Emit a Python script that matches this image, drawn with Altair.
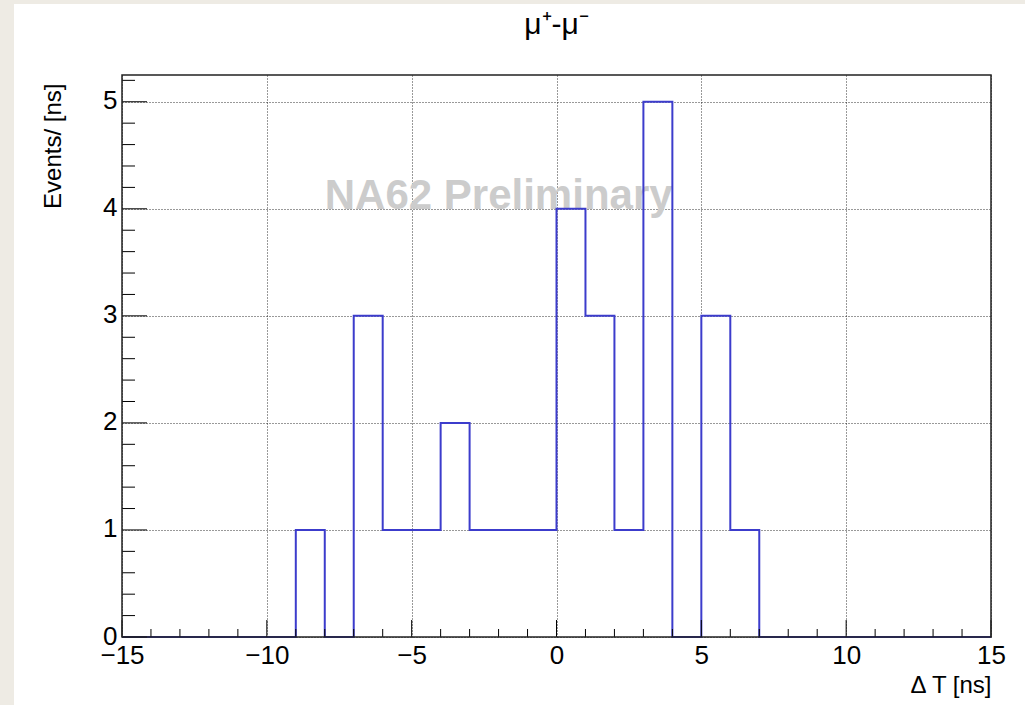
import altair as alt
import pandas as pd

# ---- data ----
bin_edges = list(range(-15, 16))
counts = [0, 0, 0, 0, 0, 0, 1, 0, 3, 1, 1, 2, 1, 1, 1, 4, 3, 1, 5, 0, 3, 1, 0, 0, 0, 0, 0, 0, 0, 0]
x_major = [-15, -10, -5, 0, 5, 10, 15]
x_minor = [v for v in range(-15, 16) if v % 5 != 0]
y_major = [0, 1, 2, 3, 4, 5]
y_minor = [round(0.2 * i, 1) for i in range(0, 27) if i % 5 != 0]
title_text = "μ⁺-μ⁻"
x_title = "Δ T [ns]"
y_title = "Events/ [ns]"
watermark = ["NA62 Preliminary"]
watermark_x = [-8.0]
watermark_y = [4.0]

W, H = 869, 562
FONT = "Liberation Sans"
BLUE = "#3c3ccc"
BEIGE = "#eeebe4"

hist_df = pd.DataFrame({"x": bin_edges, "n": counts + [counts[-1]]})

xs = alt.Scale(domain=[-15, 15], nice=False, zero=False)
ys = alt.Scale(domain=[0, 5.25], nice=False, zero=False)
one = pd.DataFrame({"a": [0]})

left_strip = alt.Chart(one).mark_rect(fill=BEIGE, stroke=None).encode(
    x=alt.value(0 - 122), x2=alt.value(14 - 122),
    y=alt.value(0 - 75), y2=alt.value(705 - 75))
top_strip = alt.Chart(one).mark_rect(fill=BEIGE, stroke=None).encode(
    x=alt.value(0 - 122), x2=alt.value(1025 - 122),
    y=alt.value(0 - 75), y2=alt.value(4 - 75))

xaxis = alt.Axis(values=x_major, format="d", labelPadding=5, labelFlush=False,
                 title=x_title, titleX=W, titleY=55, titleAlign="right",
                 titleBaseline="alphabetic", titleAnchor="end")
yaxis = alt.Axis(values=y_major, format="d", labelPadding=5, labelFlush=False,
                 labelOffset=-1,
                 title=y_title, titleX=-62, titleY=8, titleAngle=270, titleAlign="right",
                 titleBaseline="alphabetic")

grid = alt.Chart(hist_df).mark_line(strokeOpacity=0).encode(
    x=alt.X("x:Q", scale=xs, axis=xaxis),
    y=alt.Y("n:Q", scale=ys, axis=yaxis))

wm = alt.Chart(pd.DataFrame({"t": watermark, "x": watermark_x, "y": watermark_y})).mark_text(
    font=FONT, fontSize=42, fontWeight="bold", color="#cccccc", align="left",
    baseline="alphabetic").encode(
    x=alt.X("x:Q", scale=xs), y=alt.Y("y:Q", scale=ys), text="t:N")

hist = alt.Chart(hist_df).mark_line(interpolate="step-after", color=BLUE, strokeWidth=2).encode(
    x=alt.X("x:Q", scale=xs), y=alt.Y("n:Q", scale=ys))

def xticks(vals, length):
    return alt.Chart(pd.DataFrame({"v": vals})).mark_rule(color="black", strokeWidth=1).encode(
        x=alt.X("v:Q", scale=xs), y=alt.value(H), y2=alt.value(H - length))

def yticks(vals, length):
    return alt.Chart(pd.DataFrame({"v": vals})).mark_rule(color="black", strokeWidth=1).encode(
        y=alt.Y("v:Q", scale=ys), x=alt.value(0), x2=alt.value(length))

frame = alt.Chart(one).mark_rect(filled=False, stroke="#222222", strokeWidth=1.5).encode(
    x=alt.value(0), x2=alt.value(W), y=alt.value(0), y2=alt.value(H))

title = alt.Chart(pd.DataFrame({"t": [title_text]})).mark_text(
    font=FONT, fontSize=30, color="black", align="center", baseline="alphabetic").encode(
    x=alt.value(W / 2), y=alt.value(34 - 75), text="t:N")

chart = alt.layer(
    grid, left_strip, top_strip, wm, hist,
    xticks(x_major, 17), xticks(x_minor, 8),
    yticks(y_major, 25), yticks(y_minor, 13),
    frame, title
).properties(
    width=W, height=H,
    autosize=alt.AutoSizeParams(type="none"),
    padding={"left": 122, "top": 75, "right": 1025 - 122 - W, "bottom": 705 - 75 - H},
).configure(background="white", font=FONT).configure_view(stroke=None, fill=None).configure_axis(
    ticks=False, domain=False, grid=True,
    gridDash=[1, 2], gridColor="#000000", gridOpacity=0.8, gridWidth=1,
    labelFont=FONT, labelFontSize=26, labelColor="black",
    titleFont=FONT, titleFontSize=24, titleFontWeight="normal", titleColor="black")

chart.save("out.html", embed_options={"renderer": "svg", "actions": False})
